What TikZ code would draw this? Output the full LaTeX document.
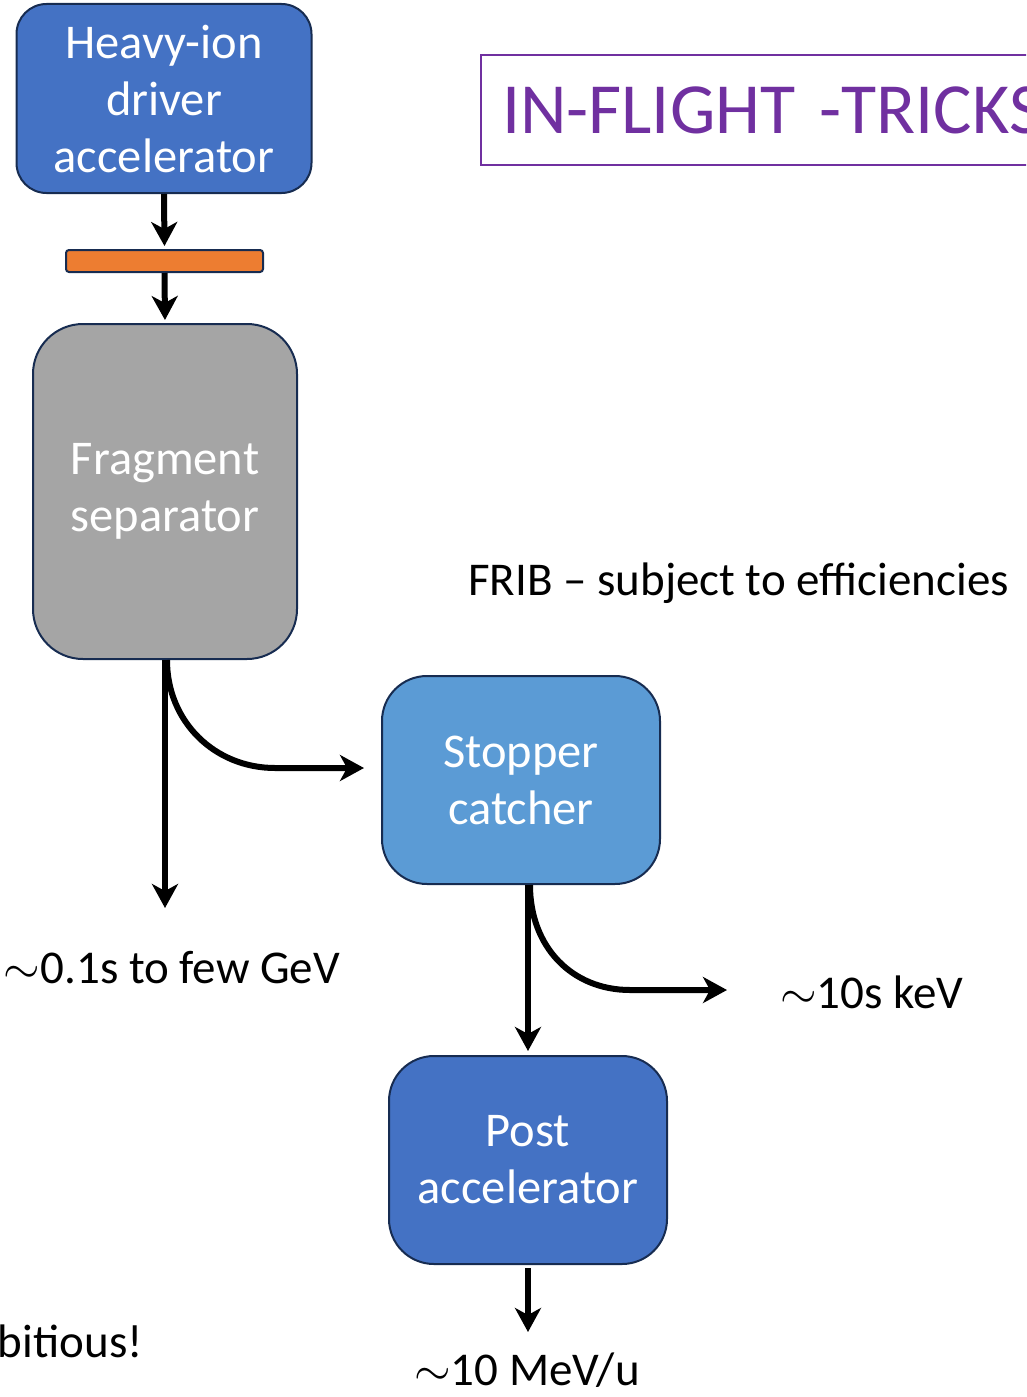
\RequirePackage{fix-cm}
\documentclass[tikz,border=0pt]{standalone}
\usepackage{fontspec}
\setmainfont{Carlito}
\usepackage{tikz}
\usetikzlibrary{arrows.meta,positioning,calc}
\definecolor{ifBlue}{HTML}{4472C4}
\definecolor{ifSky}{HTML}{5B9BD5}
\definecolor{ifGrey}{HTML}{A5A5A5}
\definecolor{ifOrange}{HTML}{ED7D31}
\definecolor{ifPurple}{HTML}{7030A0}
\definecolor{ifEdge}{HTML}{172C51}

\tikzset{
  stage/.style={draw=ifEdge, line width=2pt, text=white, align=center, inner sep=0pt,
    font=\fontsize{48.5}{57}\selectfont},
  flow/.style={line width=6pt, -{Stealth[length=24pt,width=26pt,inset=7pt]}},
  lbl/.style={font=\fontsize{47}{57}\selectfont, inner sep=0pt}
}

\begin{document}
\begin{tikzpicture}[x=1pt,y=1pt]
    \useasboundingbox (0,0) rectangle (1026,-1397);
    \clip (0,0) rectangle (1026,-1397);
    % stages of the beam line
    \node[stage, fill=ifBlue, rounded corners=30pt, minimum width=295pt, minimum height=189pt] (driver) at (164,-98.5)
      {Heavy-ion\\driver\\accelerator};
    \node[draw=ifEdge, line width=2pt, fill=ifOrange, rounded corners=3pt, minimum width=197pt, minimum height=22pt,
      inner sep=0pt] (target) at (164.5,-261) {};
    \node[stage, fill=ifGrey, rounded corners=50pt, minimum width=264pt, minimum height=335pt] (sep) at (165,-491.5)
      {Fragment\\separator};
    \node[stage, fill=ifSky, rounded corners=45pt, minimum width=278pt, minimum height=208pt] (stopper) at (521,-780)
      {Stopper\\catcher};
    \node[stage, fill=ifBlue, rounded corners=45pt, minimum width=278pt, minimum height=208pt] (post) at (528,-1160)
      {Post\\accelerator};
    % title
    \node[draw=ifPurple, line width=2pt, anchor=north west, minimum height=110pt, text width=600pt, inner xsep=21pt,
      align=left, text=ifPurple, font=\fontsize{72}{86}\selectfont] (title) at (480,-54) {IN-FLIGHT -TRICKS};
    % labels
    \node[lbl, anchor=base west] (frib) at (468,-595) {FRIB -- subject to efficiencies};
    \node[lbl, anchor=base] (gevlbl) at (172,-983) {$\sim$0.1s to few GeV};
    \node[lbl, anchor=base west] (kevlbl) at (780,-1008) {$\sim$10s keV};
    \node[lbl, anchor=base] (mevlbl) at (527,-1385) {$\sim$10 MeV/u};
    \node[lbl, anchor=base east] (ambl) at (143,-1357) {bitious!};
    % connectors
    \coordinate (sepout) at (165,-908);
    \coordinate (sepbend) at (275,-768);
    \coordinate (stopbend) at (630,-990);
    \coordinate (stopout) at (727,-990);
    \coordinate (postout) at (528,-1332);
    \draw[flow, shorten >=3pt] (driver.south) -- (target.north);
    \draw[flow, shorten >=3pt] (target.south) -- (sep.north);
    \draw[flow] (sep.south) -- (sepout);
    \draw[flow, shorten >=17pt] ([xshift=2pt]sep.south) .. controls +(0,-62) and +(-60,0) .. (sepbend) -- (sepbend -| stopper.west);
    \draw[flow, shorten >=4pt] (post.north |- stopper.south) -- (post.north);
    \draw[flow] ([xshift=2pt]post.north |- stopper.south) .. controls +(0,-62) and +(-58,0) .. (stopbend) -- (stopout);
    \draw[flow, shorten <=3pt] (post.south) -- (postout);
  \end{tikzpicture}
\end{document}
